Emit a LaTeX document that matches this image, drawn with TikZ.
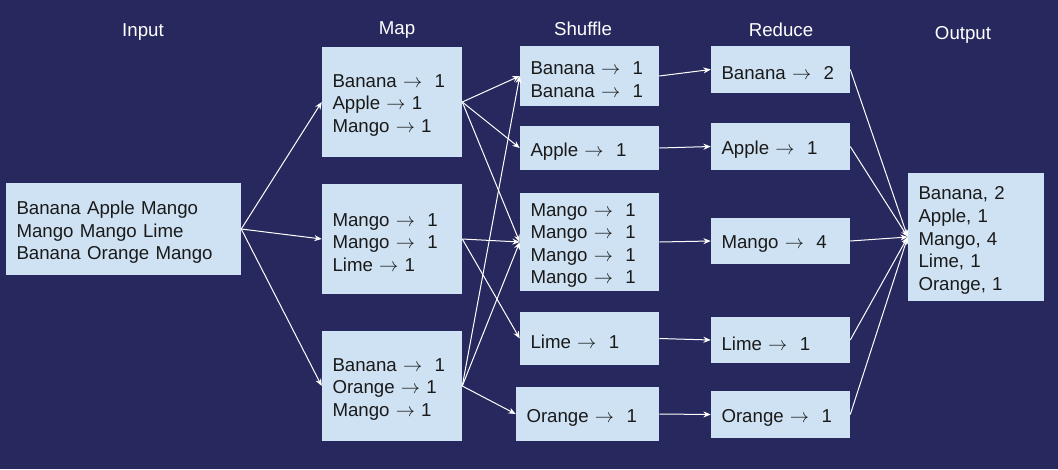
\documentclass[tikz,border=0pt]{standalone}
\usepackage{fontspec}
\setmainfont{Liberation Sans}
\usetikzlibrary{arrows.meta}
\definecolor{bgc}{HTML}{27295E}
\definecolor{boxc}{HTML}{CFE2F3}
\definecolor{ink}{HTML}{1A1A1A}
\newcommand{\ar}{$\rightarrow$}
\newcommand{\mybox}[6]{%
  \pgfmathsetmacro{\mybw}{(#4-#2)*0.75}%
  \pgfmathsetmacro{\mybh}{(#5-#3)*0.75}%
  \pgfmathsetmacro{\mytw}{(#4-#2-21)*0.75}%
  \node[boxn, minimum width=\mybw pt, minimum height=\mybh pt] (#1) at ({(#2+#4)/2},{(#3+#5)/2}) {};
  \node[boxt, text width=\mytw pt] (#1-t) at ([yshift=-2.6pt]#1.center) {#6};}
\tikzset{
  boxn/.style={fill=boxc, inner sep=0pt},
  boxt/.style={text=ink, align=left, inner sep=0pt,
    font=\fontsize{14}{16.9}\selectfont},
  ttl/.style={text=white, font=\fontsize{14}{17}\selectfont, inner sep=0pt},
  conn/.style={draw=white, line width=0.75pt, -{Stealth[length=5.5pt,width=4.5pt]}}
}
\begin{document}
\begin{tikzpicture}[x=0.75pt,y=-0.75pt]
\fill[bgc] (0,0) rectangle (1058,469);
\useasboundingbox (0,0) rectangle (1058,469);
% titles
\node[ttl] (tin) at (143,32) {Input};
\node[ttl] (tmap) at (397,30) {Map};
\node[ttl] (tshu) at (583,29) {Shuffle};
\node[ttl] (tred) at (781,30) {Reduce};
\node[ttl] (tout) at (963,35) {Output};
% boxes
\mybox{in}{6}{183}{241}{275}{Banana Apple Mango\\Mango Mango Lime\\Banana Orange Mango}
\mybox{m1}{322}{47}{462}{157}{Banana \ar\ \ 1\\Apple \ar\ 1\\Mango \ar\ 1}
\mybox{m2}{322}{184}{462}{294}{Mango \ar\ \ 1\\Mango \ar\ \ 1\\Lime \ar\ 1}
\mybox{m3}{322}{331}{462}{441}{Banana \ar\ \ 1\\Orange \ar\ 1\\Mango \ar\ 1}
\mybox{s1}{520}{46}{659}{106}{Banana \ar\ \ 1\\Banana \ar\ \ 1}
\mybox{s2}{520}{126}{659}{170}{Apple \ar\ \ 1}
\mybox{s3}{520}{193}{659}{291}{Mango \ar\ \ 1\\Mango \ar\ \ 1\\Mango \ar\ \ 1\\Mango \ar\ \ 1}
\mybox{s4}{520}{312}{659}{365}{Lime \ar\ \ 1}
\mybox{s5}{516}{387}{659}{441}{Orange \ar\ \ 1}
\mybox{r1}{711}{46}{850}{93}{Banana \ar\ \ 2}
\mybox{r2}{711}{123}{850}{170}{Apple \ar\ \ 1}
\mybox{r3}{711}{218}{850}{264}{Mango \ar\ \ 4}
\mybox{r4}{711}{317}{850}{363}{Lime \ar\ \ 1}
\mybox{r5}{711}{391}{850}{438}{Orange \ar\ \ 1}
\mybox{out}{908}{173}{1044}{301}{Banana, 2\\Apple, 1\\Mango, 4\\Lime, 1\\Orange, 1}
% connectors
\foreach \t in {m1,m2,m3} \draw[conn] (in.east) -- (\t.west);
\foreach \t in {s1,s2,s3} \draw[conn] (m1.east) -- (\t.west);
\foreach \t in {s3,s4} \draw[conn] (m2.east) -- (\t.west);
\foreach \t in {s1,s3,s5} \draw[conn] (m3.east) -- (\t.west);
\foreach \a/\b in {s1/r1,s2/r2,s3/r3,s4/r4,s5/r5} \draw[conn] (\a.east) -- (\b.west);
\foreach \t in {r1,r2,r3,r4,r5} \draw[conn] (\t.east) -- (out.west);
\end{tikzpicture}
\end{document}
